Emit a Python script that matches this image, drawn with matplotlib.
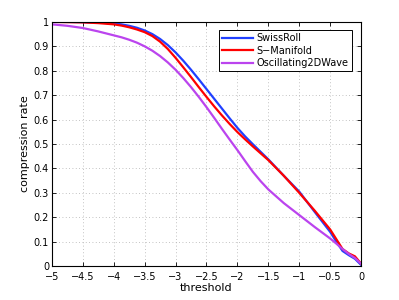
import numpy as np
import matplotlib
matplotlib.use("Agg")
import matplotlib.pyplot as plt

# thresholds shared by all three curves
thr = [-5, -4.75, -4.5, -4.25, -4, -3.875, -3.75, -3.625, -3.5, -3.375, -3.25,
       -3.125, -3, -2.875, -2.75, -2.625, -2.5, -2.375, -2.25, -2.125, -2,
       -1.875, -1.75, -1.625, -1.5, -1.25, -1, -0.75, -0.5, -0.4, -0.3, -0.2,
       -0.1, 0]

swissroll = [1.0, 1.0, 0.999, 0.997, 0.994, 0.99, 0.984, 0.976, 0.965, 0.95,
             0.93, 0.905, 0.875, 0.841, 0.804, 0.765, 0.725, 0.685, 0.645,
             0.605, 0.566, 0.531, 0.499, 0.468, 0.437, 0.37, 0.305, 0.222,
             0.14, 0.1, 0.062, 0.045, 0.03, 0.005]
s_manifold = [1.0, 0.999, 0.998, 0.995, 0.99, 0.985, 0.978, 0.969, 0.958, 0.942,
              0.919, 0.889, 0.853, 0.814, 0.774, 0.733, 0.693, 0.654, 0.617,
              0.582, 0.549, 0.519, 0.49, 0.462, 0.434, 0.37, 0.30, 0.227,
              0.15, 0.11, 0.07, 0.052, 0.04, 0.01]
osc2dwave = [0.99, 0.984, 0.975, 0.961, 0.945, 0.937, 0.927, 0.915, 0.9, 0.882,
             0.86, 0.834, 0.804, 0.77, 0.733, 0.693, 0.651, 0.607, 0.562,
             0.518, 0.475, 0.43, 0.386, 0.348, 0.314, 0.258, 0.209, 0.16,
             0.113, 0.092, 0.07, 0.05, 0.033, 0.01]

labels = ["SwissRoll", "S\u2212Manifold", "Oscillating2DWave"]
colors = ["#2040ff", "#ff0000", "#bb44ee"]

xticks = [-5, -4.5, -4, -3.5, -3, -2.5, -2, -1.5, -1, -0.5, 0]
yticks = [0, 0.1, 0.2, 0.3, 0.4, 0.5, 0.6, 0.7, 0.8, 0.9, 1]

plt.rcParams["font.family"] = "DejaVu Sans"

fig = plt.figure(figsize=(3.99, 3.0), dpi=100)
ax = fig.add_axes([0.13, 0.113, 0.775, 0.814])

for y, lab, c in zip((swissroll, s_manifold, osc2dwave), labels, colors):
    ax.plot(thr, y, color=c, lw=1.6, label=lab, solid_joinstyle="round")

ax.set_xlim(-5, 0)
ax.set_ylim(0, 1)
ax.set_xticks(xticks)
ax.set_yticks(yticks)
ax.set_xticklabels([f"{t:g}".replace("-", "\u2212") for t in xticks])
ax.set_yticklabels([f"{t:g}" for t in yticks])
ax.tick_params(direction="in", top=True, right=True, labelsize=7, length=3,
               width=0.6)
ax.tick_params(axis="x", pad=4)
ax.tick_params(axis="y", pad=2)
ax.grid(True, ls=(0, (1, 3)), color="#b0b0b0", lw=0.6)
for s in ax.spines.values():
    s.set_linewidth(0.8)

ax.set_xlabel("threshold", fontsize=8, labelpad=1)
ax.set_ylabel("compression rate", fontsize=8, labelpad=3)

leg = ax.legend(loc="upper right", fontsize=7, fancybox=False, framealpha=1,
                edgecolor="black", handlelength=3.2, borderpad=0.3,
                labelspacing=0.25, handletextpad=0.4,
                bbox_to_anchor=(0.985, 0.985))
leg.get_frame().set_linewidth(0.7)

fig.savefig("out.png", dpi=100)
